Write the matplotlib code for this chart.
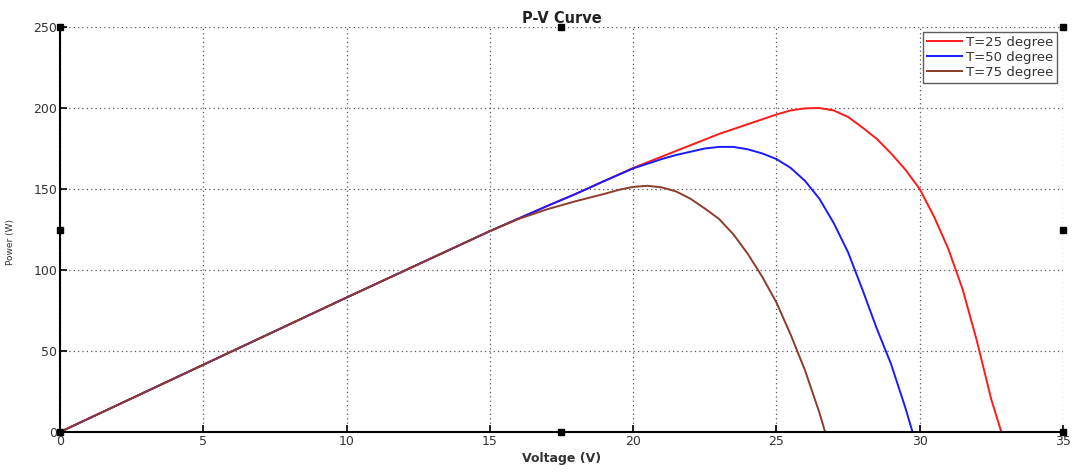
import numpy as np
import matplotlib
matplotlib.use("Agg")
import matplotlib.pyplot as plt

plt.rcParams['font.family'] = ['DejaVu Sans']

# T = 25 degree
v_25 = [0, 5, 10, 15, 17, 18, 19, 20, 21, 22, 23, 24, 25, 25.5, 26, 26.5, 27, 27.5,
        28, 28.5, 29, 29.5, 30, 30.5, 31, 31.5, 32, 32.5, 32.85, 35]
p_25 = [0, 41.5, 83, 124, 139.5, 147, 155, 163, 170, 177, 184, 190, 196, 198.5, 199.8, 200,
        198.5, 194.5, 188, 181, 172, 162, 150, 133, 113, 88, 56, 20, 0, 0]

# T = 50 degree
v_50 = [0, 5, 10, 15, 17, 18, 19, 20, 21, 21.5, 22, 22.5, 23, 23.5, 24, 24.5, 25, 25.5,
        26, 26.5, 27, 27.5, 28, 28.5, 29, 29.5, 29.75, 35]
p_50 = [0, 41.5, 83, 124, 139.5, 147, 155, 162.7, 168.5, 171, 173, 175, 176, 176, 174.5,
        172, 168.5, 163, 155, 144, 129, 111, 88, 64, 42, 15, 0, 0]

# T = 75 degree
v_75 = [0, 5, 10, 15, 16, 17, 18, 19, 19.5, 20, 20.5, 21, 21.5, 22, 22.5, 23, 23.5, 24,
        24.5, 25, 25.5, 26, 26.5, 26.7, 35]
p_75 = [0, 41.5, 83, 124, 131.5, 137.5, 142.5, 147, 149.5, 151.3, 152, 151, 148.5, 144, 138,
        131.5, 122, 110, 96, 80, 60, 38, 12, 0, 0]

labels = ['T=25 degree', 'T=50 degree', 'T=75 degree']
colors = ['#ff1a1a', '#1a1aff', '#8c3c2c']

fig = plt.figure(figsize=(10.75, 4.74), dpi=100)
ax = fig.add_axes([0.0558, 0.0886, 0.933, 0.8544])

ax.plot(v_25, p_25, color=colors[0], lw=1.4, label=labels[0])
ax.plot(v_50, p_50, color=colors[1], lw=1.4, label=labels[1])
ax.plot(v_75, p_75, color=colors[2], lw=1.4, label=labels[2])

ax.set_xlim(0, 35)
ax.set_ylim(0, 250)
ax.set_xticks(np.arange(0, 36, 5))
ax.set_yticks(np.arange(0, 251, 50))
ax.grid(True, linestyle=(0, (1, 2.5)), color='#555555', linewidth=0.9)
ax.tick_params(direction='in', length=5, width=1.2, labelsize=9, colors='black',
               labelcolor='#333333', top=False, right=False, pad=2)
for s in ['top', 'right']:
    ax.spines[s].set_visible(False)
for s in ['left', 'bottom']:
    ax.spines[s].set_linewidth(1.5)

ax.set_title('P-V Curve', fontsize=10.5, fontweight='bold', pad=3, color='#222222')
ax.set_xlabel('Voltage (V)', fontsize=9, fontweight='bold', labelpad=3, color='#333333')
ax.set_ylabel('Power (W)', fontsize=6.5, color='#333333')
ax.yaxis.set_label_coords(-0.045, 0.47)

leg = ax.legend(loc='upper right', fontsize=9.5, handlelength=2.65, frameon=True,
                fancybox=False, borderpad=0.3, labelspacing=0.15, handletextpad=0.3,
                borderaxespad=0, bbox_to_anchor=(0.994, 0.988))
leg.get_frame().set_edgecolor('#333333')
leg.get_frame().set_linewidth(1.0)
for t in leg.get_texts():
    t.set_color('#333333')

# figure selection handles
for hx, hy in [(0, 0), (0.5, 0), (1, 0), (0, 0.5), (1, 0.5), (0, 1), (0.5, 1), (1, 1)]:
    ax.plot(hx, hy, 's', color='black', ms=4.5, transform=ax.transAxes, clip_on=False,
            zorder=10)

fig.savefig('out.png', dpi=100, facecolor='white')
